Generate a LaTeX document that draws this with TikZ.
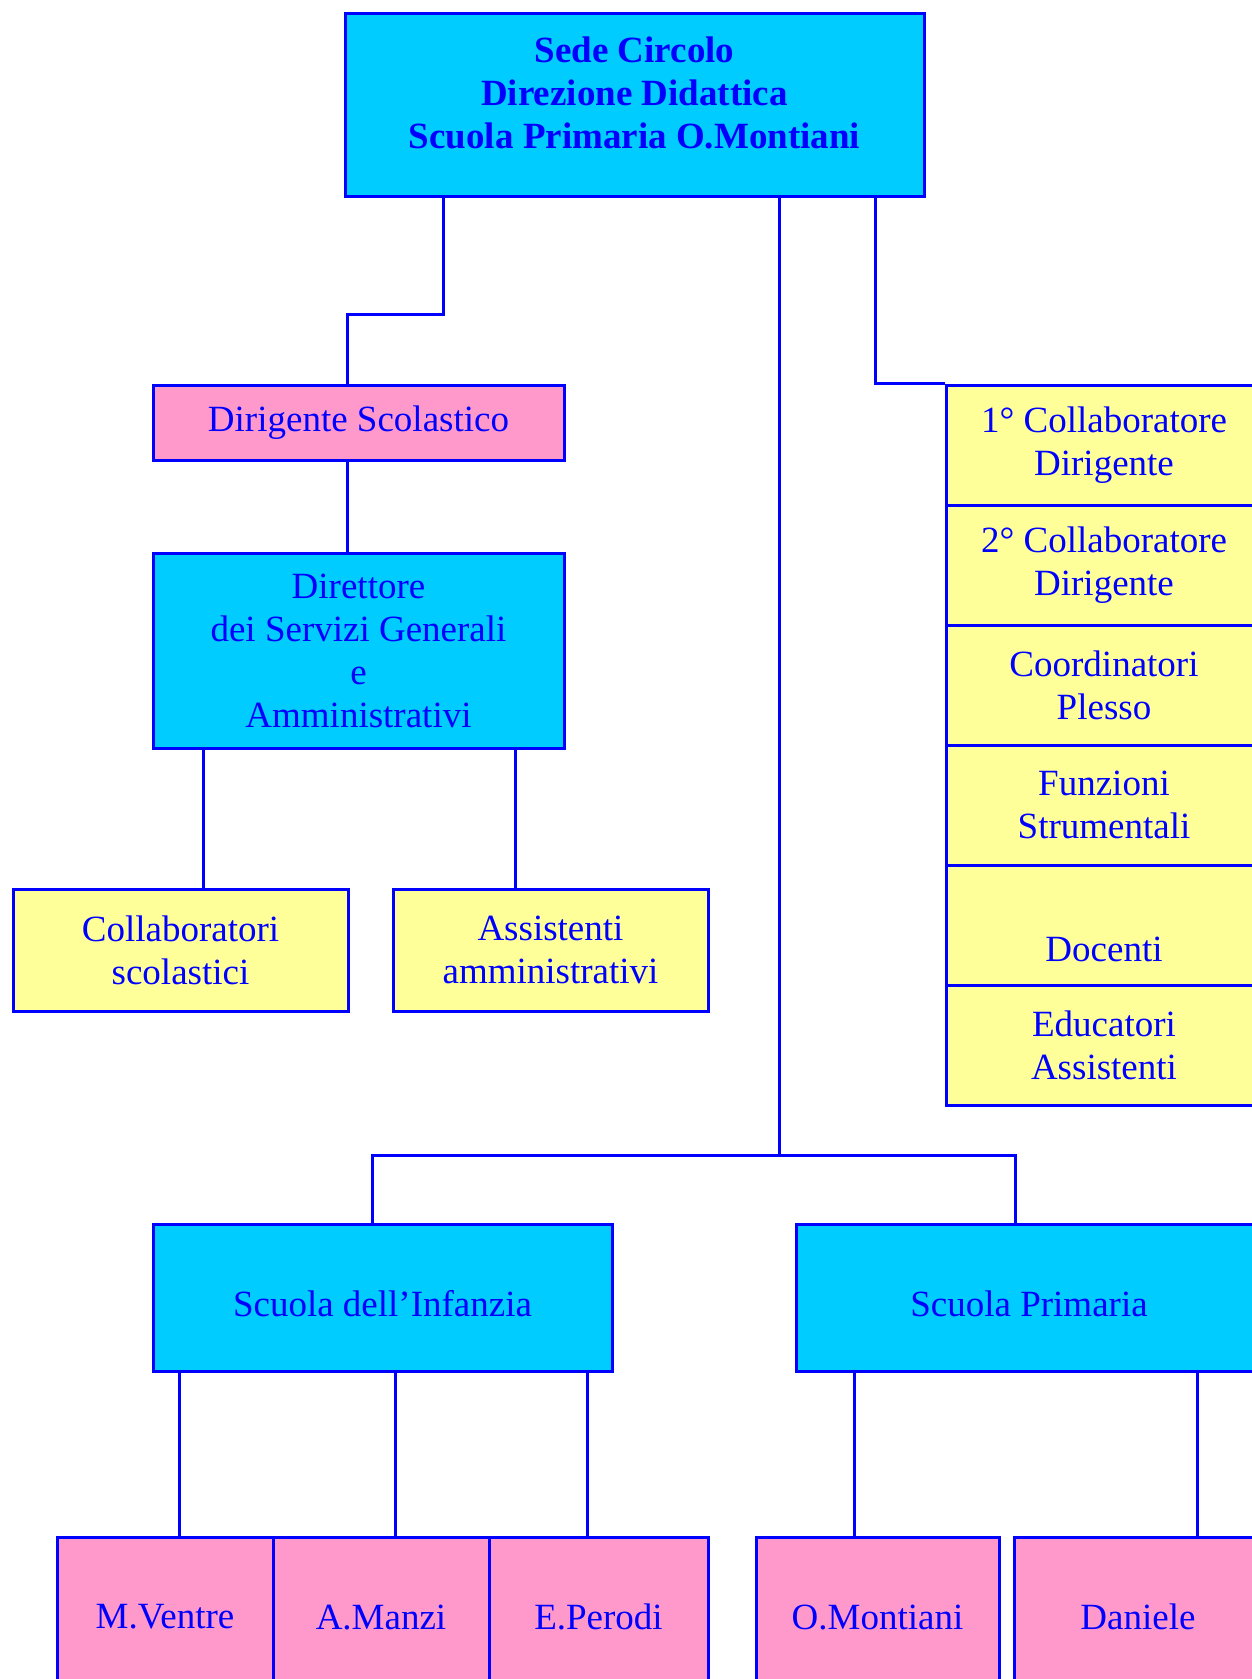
\documentclass[tikz,border=0pt]{standalone}
\usepackage{fontspec}
\setmainfont{Liberation Serif}
\definecolor{boxcyan}{HTML}{00CCFF}
\definecolor{boxpink}{HTML}{FF99CC}
\definecolor{boxyellow}{HTML}{FFFF99}
\tikzset{
  box/.style={draw=blue, line width=3pt, align=center, inner sep=0pt, text=blue,
    font=\fontsize{37}{43}\selectfont},
  cyanbox/.style={box, fill=boxcyan},
  pinkbox/.style={box, fill=boxpink},
  yellowbox/.style={box, fill=boxyellow},
  link/.style={draw=blue, line width=3pt},
}
\begin{document}
\begin{tikzpicture}[x=1pt,y=-1pt]
\useasboundingbox (0,0) rectangle (1251,1679);
% top
\node (sede) [cyanbox, minimum width=579pt, minimum height=183pt] at (634.5,104.5) {};
\node (sedetitle) [text=blue, align=center, font=\fontsize{37}{43}\selectfont\bfseries] at (634.5,93)
  {Sede Circolo\\Direzione Didattica\\Scuola Primaria O.Montiani};
% left branch
\node (dirigente) [pinkbox, minimum width=411pt, minimum height=75pt] at (358.5,422.5) {Dirigente Scolastico};
\node (dsga) [cyanbox, minimum width=411pt, minimum height=195pt] at (358.5,650.5)
  {Direttore\\dei Servizi Generali\\e\\Amministrativi};
\node (collab) [yellowbox, minimum width=335pt, minimum height=122pt] at (180.5,950) {Collaboratori\\scolastici};
\node (assist) [yellowbox, minimum width=315pt, minimum height=122pt] at (550.5,950) {Assistenti\\amministrativi};
% right column
\node (col1) [yellowbox, minimum width=316pt, minimum height=120pt] at (1104,445) {1° Collaboratore\\Dirigente};
\node (col2) [yellowbox, minimum width=316pt, minimum height=120pt] at (1104,565) {2° Collaboratore\\Dirigente};
\node (coord) [yellowbox, minimum width=316pt, minimum height=120pt] at (1104,685) {Coordinatori\\Plesso};
\node (funz) [yellowbox, minimum width=316pt, minimum height=120pt] at (1104,805) {Funzioni\\Strumentali};
\node (docenti) [yellowbox, minimum width=316pt, minimum height=120pt] at (1104,925) {\strut\\Docenti};
\node (educ) [yellowbox, minimum width=316pt, minimum height=120pt] at (1104,1045) {Educatori\\Assistenti};
% schools
\node (infanzia) [cyanbox, minimum width=459pt, minimum height=147pt] at (382.5,1297.5)
  {\raisebox{-6pt}[\height][\depth]{Scuola dell’Infanzia}};
\node (primaria) [cyanbox, minimum width=466pt, minimum height=147pt] at (1029,1297.5)
  {\raisebox{-6pt}[\height][\depth]{Scuola Primaria}};
\node (ventre) [pinkbox, minimum width=216pt, minimum height=160pt] at (165,1617) {M.Ventre};
\node (manzi) [pinkbox, minimum width=216pt, minimum height=160pt] at (381,1617) {A.Manzi};
\node (perodi) [pinkbox, minimum width=219pt, minimum height=160pt] at (598.5,1617) {E.Perodi};
\node (montiani) [pinkbox, minimum width=243pt, minimum height=160pt] at (877.5,1617) {O.Montiani};
\node (daniele) [pinkbox, minimum width=248pt, minimum height=160pt] at (1138,1617) {Daniele};
% connectors
\coordinate (bendleft) at (347,314);
\coordinate (bendmid) at (779,1155);
\draw [link] (sede.south -| 443,0) |- (bendleft) -- (dirigente.north -| bendleft);
\draw [link] (dirigente.south -| bendleft) -- (dsga.north -| bendleft);
\draw [link] (dsga.south -| 203,0) -- (collab.north -| 203,0);
\draw [link] (dsga.south -| 515,0) -- (assist.north -| 515,0);
\draw [link] (sede.south -| 875,0) |- (col1.north west);
\draw [link] (sede.south -| bendmid) -- (bendmid);
\draw [link] (infanzia.north -| 372,0) |- (bendmid) -| (primaria.north -| 1015,0);
\draw [link] (infanzia.south -| 179,0) -- (ventre.north -| 179,0);
\draw [link] (infanzia.south -| 395,0) -- (manzi.north -| 395,0);
\draw [link] (infanzia.south -| 587,0) -- (perodi.north -| 587,0);
\draw [link] (primaria.south -| 854,0) -- (montiani.north -| 854,0);
\draw [link] (primaria.south -| 1197,0) -- (daniele.north -| 1197,0);
\end{tikzpicture}
\end{document}
